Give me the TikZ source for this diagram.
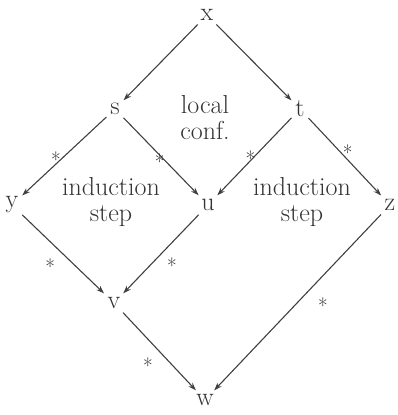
\documentclass[tikz,border=0pt]{standalone}
\usetikzlibrary{arrows.meta}
\begin{document}
\begin{tikzpicture}[x=1pt,y=-1pt,
  every node/.style={font=\fontsize{26}{29}\selectfont, text=black!80},
  pt/.style={inner sep=3pt},
  arr/.style={draw=black!75, line width=1.1pt, -{Stealth[length=8pt,width=5.5pt]}, shorten <=1pt, shorten >=1pt},
  st/.style={font=\fontsize{21}{21}\selectfont, text=black!85, inner sep=0pt, pos=0.5, anchor=center}]
\useasboundingbox (0,0) rectangle (397,415);
\node[pt] (x) at (207,15) {x};
\node[pt] (s) at (115,109) {s};
\node[pt] (t) at (300,109) {t};
\node[pt] (y) at (12,205) {y};
\node[pt] (u) at (208,205) {u};
\node[pt] (z) at (390,205) {z};
\node[pt] (v) at (114,303) {v};
\node[pt] (w) at (205,400) {w};
\node[align=center] (lc) at (205,118) {local\\[-3pt]conf.};
\node[align=center] (is1) at (111,202) {induction\\[-3pt]step};
\node[align=center] (is2) at (302,202) {induction\\[-3pt]step};
\draw[arr] (x) -- (s);
\draw[arr] (x) -- (t);
\draw[arr] (s) -- node[st, xshift=-8.5pt, yshift=-3.5pt] {*} (y);
\draw[arr] (s) -- node[st, xshift=-1.5pt, yshift=-5.5pt] {*} (u);
\draw[arr] (t) -- node[st, xshift=-4pt, yshift=-2.5pt] {*} (u);
\draw[arr] (t) -- node[st, xshift=3pt, yshift=4.5pt] {*} (z);
\draw[arr] (y) -- node[st, xshift=-13pt, yshift=-12.5pt] {*} (v);
\draw[arr] (u) -- node[st, xshift=11pt, yshift=-11.5pt] {*} (v);
\draw[arr] (v) -- node[st, xshift=-11.5pt, yshift=-14pt] {*} (w);
\draw[arr] (z) -- node[st, xshift=25.5pt, yshift=-3pt] {*} (w);
\end{tikzpicture}
\end{document}
